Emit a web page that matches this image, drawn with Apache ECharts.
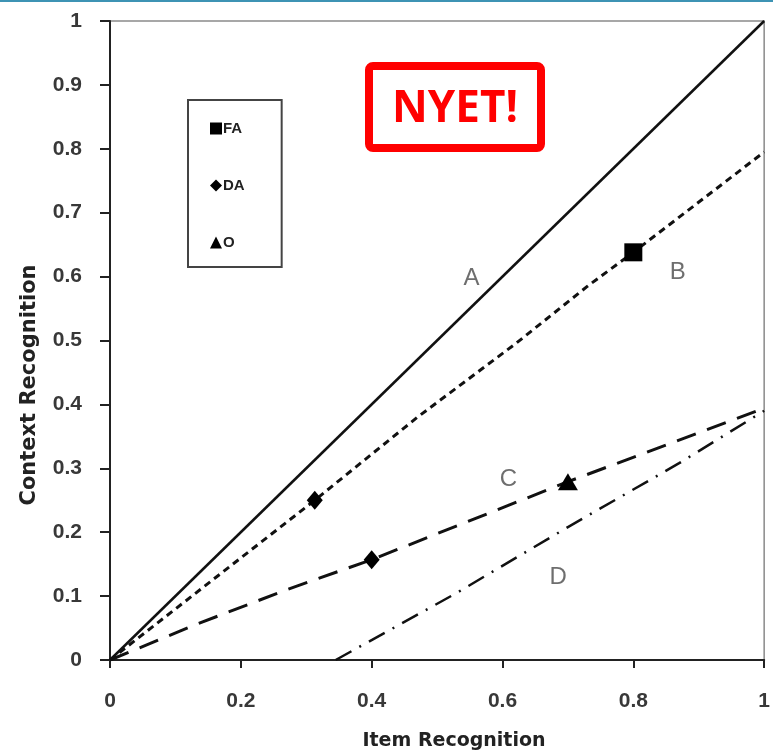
<!DOCTYPE html>
<html>
<head>
<meta charset="utf-8">
<script src="https://cdn.jsdelivr.net/npm/echarts@6/dist/echarts.min.js"></script>
<style>
  html, body { margin: 0; padding: 0; background: #fff; }
  #chart { width: 773px; height: 752px; }
</style>
</head>
<body>
<div id="chart"></div>
<script>
// curve A: identity line
const aX = [0, 1];
const aY = [0, 1];
// curve B (short dashes)
const bX = [0, 0.313, 0.47, 0.62, 0.73, 0.8, 1];
const bY = [0, 0.25, 0.38, 0.495, 0.585, 0.638, 0.795];
// curve C (long dashes)
const cX = [0, 0.13, 0.27, 0.4, 0.56, 0.7, 0.82, 1];
const cY = [0, 0.055, 0.11, 0.157, 0.222, 0.279, 0.325, 0.394];
// curve D (dash-dot)
const dX = [0.345, 0.53, 0.7, 0.87, 1];
const dY = [0, 0.105, 0.208, 0.308, 0.39];
// markers
const faX = [0.8];
const faY = [0.638];
const daX = [0.313, 0.4];
const daY = [0.25, 0.157];
const oX = [0.7];
const oY = [0.279];
// curve names
const curveNames = ["A", "B", "C", "D"];
const curveNameX = [0.5525, 0.868, 0.609, 0.685];
const curveNameY = [0.598, 0.606, 0.282, 0.13];

const zip = (xs, ys) => xs.map((x, i) => [x, ys[i]]);

const chart = echarts.init(document.getElementById("chart"), null, { renderer: "canvas" });

const tickFont = {
  color: "#383838",
  fontSize: 21,
  fontWeight: "bold",
  fontFamily: "Arial, 'Liberation Sans', sans-serif",
};

const option = {
  animation: false,
  grid: {
    left: 110,
    right: 4,
    top: 21,
    bottom: 92,
    show: true,
    borderColor: "#8a8a8a",
    borderWidth: 1.5,
  },
  xAxis: {
    type: "value",
    min: 0,
    max: 1,
    interval: 0.2,
    splitLine: { show: false },
    axisLine: { onZero: false, lineStyle: { color: "#222", width: 2 } },
    axisTick: { inside: false, length: 8, lineStyle: { color: "#222", width: 2 } },
    axisLabel: Object.assign({ margin: 31 }, tickFont),
  },
  yAxis: {
    type: "value",
    min: 0,
    max: 1,
    interval: 0.1,
    splitLine: { show: false },
    axisLine: { onZero: false, lineStyle: { color: "#222", width: 2 } },
    axisTick: { inside: false, length: 10, lineStyle: { color: "#222", width: 2 } },
    axisLabel: Object.assign({ margin: 28 }, tickFont),
  },
  legend: {
    orient: "vertical",
    left: 188,
    top: 100,
    data: [
      { name: "FA", icon: "rect" },
      { name: "DA", icon: "diamond" },
      { name: "O", icon: "triangle" },
    ],
    itemWidth: 12,
    itemHeight: 12,
    itemGap: 42,
    padding: [21, 37, 17, 22],
    borderColor: "#444",
    borderWidth: 2,
    backgroundColor: "#fff",
    textStyle: {
      color: "#222",
      fontSize: 15,
      fontWeight: "bold",
      fontFamily: "Arial, 'Liberation Sans', sans-serif",
      padding: [0, 0, 0, -4],
    },
    itemStyle: { color: "#000", opacity: 1 },
    selectedMode: false,
  },
  series: [
    {
      name: "lineA",
      type: "line",
      data: zip(aX, aY),
      symbol: "none",
      lineStyle: { color: "#111", width: 2.5, type: "solid" },
    },
    {
      name: "lineB",
      type: "line",
      data: zip(bX, bY),
      symbol: "none",
      lineStyle: { color: "#111", width: 3, type: [7, 5] },
    },
    {
      name: "lineC",
      type: "line",
      data: zip(cX, cY),
      symbol: "none",
      lineStyle: { color: "#111", width: 3, type: [20, 12] },
    },
    {
      name: "lineD",
      type: "line",
      data: zip(dX, dY),
      symbol: "none",
      lineStyle: { color: "#111", width: 2.5, type: [18, 9, 2, 9] },
    },
    {
      name: "FA",
      type: "scatter",
      data: zip(faX, faY),
      symbol: "rect",
      symbolSize: 18,
      itemStyle: { color: "#000", opacity: 1 },
      z: 5,
    },
    {
      name: "DA",
      type: "scatter",
      data: zip(daX, daY),
      symbol: "diamond",
      symbolSize: [16, 19],
      itemStyle: { color: "#000", opacity: 1 },
      z: 5,
    },
    {
      name: "O",
      type: "scatter",
      data: zip(oX, oY),
      symbol: "triangle",
      symbolSize: [20, 17],
      itemStyle: { color: "#000", opacity: 1 },
      z: 5,
    },
    {
      name: "curveNames",
      type: "scatter",
      data: curveNames.map((n, i) => ({ name: n, value: [curveNameX[i], curveNameY[i]] })),
      symbolSize: 1,
      itemStyle: { color: "transparent" },
      label: {
        show: true,
        position: "inside",
        formatter: (p) => p.name,
        color: "#4a4a4a",
        fontSize: 24,
        fontFamily: "Arial, 'Liberation Sans', sans-serif",
      },
    },
  ],
  graphic: [
    {
      type: "rect",
      left: 0,
      top: 0,
      shape: { x: 0, y: 0, width: 773, height: 2 },
      style: { fill: "#3d93b4" },
    },
    {
      type: "rect",
      shape: { x: 369, y: 66, width: 172, height: 82, r: 4 },
      style: { fill: "#fff", stroke: "#ff0000", lineWidth: 8 },
      z: 10,
    },
    {
      type: "text",
      x: 455,
      y: 109,
      style: {
        text: "NYET!",
        fill: "#ff0000",
        font: "bold 44px 'Open Sans'",
        textAlign: "center",
        textVerticalAlign: "middle",
      },
      z: 11,
    },
    {
      type: "text",
      x: 454,
      y: 741,
      style: {
        text: "Item Recognition",
        fill: "#222",
        font: "bold 19px 'DejaVu Sans'",
        textAlign: "center",
        textVerticalAlign: "middle",
      },
    },
    {
      type: "text",
      x: 30,
      y: 385,
      rotation: Math.PI / 2,
      style: {
        text: "Context Recognition",
        fill: "#222",
        font: "bold 21px 'DejaVu Sans'",
        textAlign: "center",
        textVerticalAlign: "middle",
      },
    },
  ],
};

chart.setOption(option);
</script>
</body>
</html>
